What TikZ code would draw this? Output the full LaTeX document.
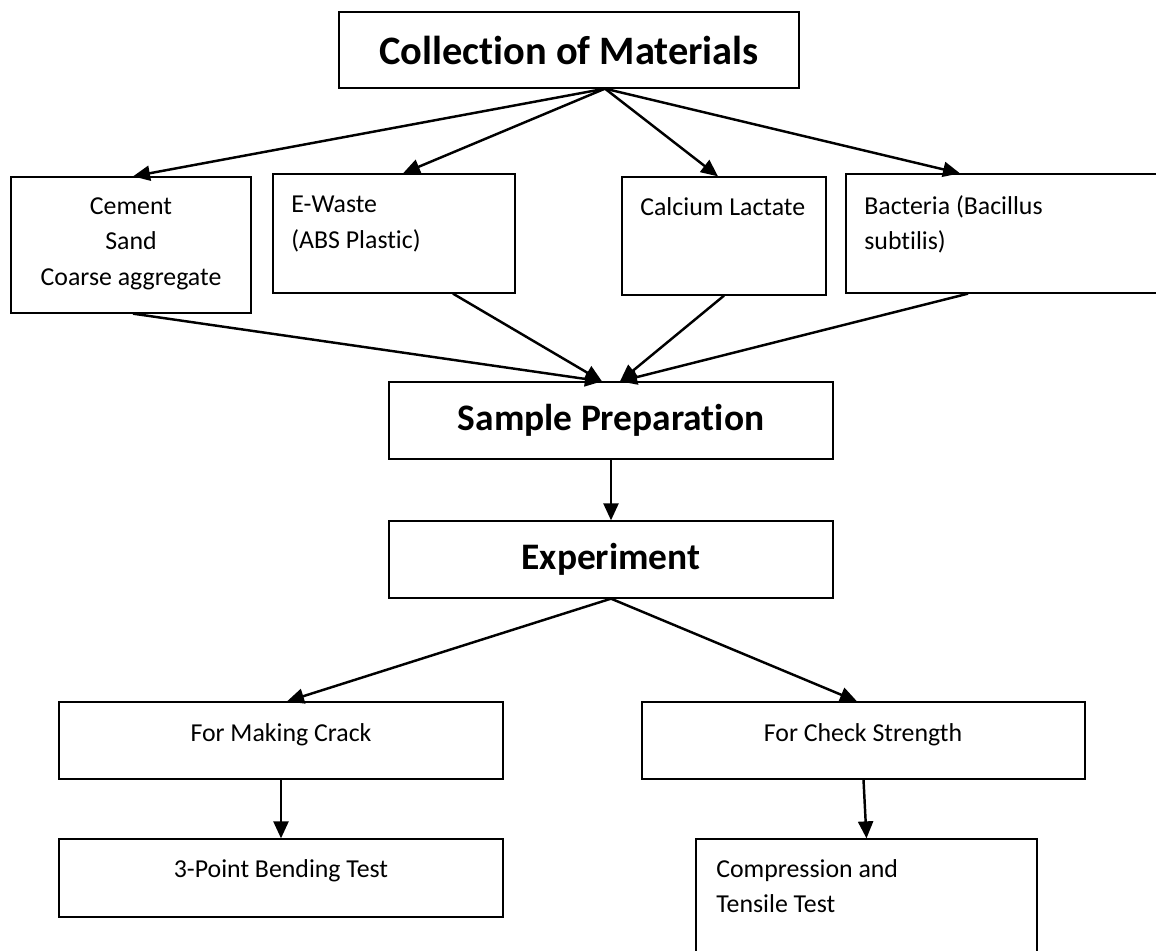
\documentclass[tikz,border=0pt]{standalone}
\usepackage{fontspec}
\setmainfont{Carlito}[Ligatures=NoCommon]
\usetikzlibrary{arrows.meta}

\begin{document}
\begin{tikzpicture}[x=0.02cm,y=-0.02cm,
    box/.style={draw,line width=0.75pt,inner sep=0pt},
    txt/.style={inner sep=0pt,font=\fontsize{14.7}{20.2}\selectfont},
    head/.style={inner sep=0pt,font=\fontsize{21.3}{25}\selectfont\bfseries},
    arr/.style={line width=1.4pt,-{Triangle[length=0.34cm,width=0.3cm]}}]
    \useasboundingbox (0,0) rectangle (1156,950);
    \clip (0,0) rectangle (1156,950);
    % boxes
    \node [box,head,font=\fontsize{23}{27}\selectfont\bfseries,minimum width=9.2cm,minimum height=1.52cm] (coll) at (569,50) {Collection of Materials};
    \node [box,minimum width=4.8cm,minimum height=2.72cm] (cem) at (131,245) {};
    \node [box,minimum width=4.84cm,minimum height=2.38cm] (ew) at (394,233.5) {};
    \node [box,minimum width=4.08cm,minimum height=2.36cm] (calc) at (724,236) {};
    \node [box,minimum width=6.68cm,minimum height=2.38cm] (bact) at (1013,233.5) {};
    \node [box,head,minimum width=8.88cm,minimum height=1.54cm] (prep) at (611,420.5) {Sample Preparation};
    \node [box,head,minimum width=8.88cm,minimum height=1.54cm] (exp) at (611,559.5) {Experiment};
    \node [box,minimum width=8.88cm,minimum height=1.54cm] (crack) at (281,740.5) {};
    \node [box,minimum width=8.88cm,minimum height=1.56cm] (bend) at (281,878) {};
    \node [box,minimum width=8.86cm,minimum height=1.54cm] (check) at (863.5,740.5) {};
    \node [box,minimum width=6.82cm,minimum height=3cm] (comp) at (866.5,914) {};
    % texts
    \node [txt,anchor=north,align=center] (cemtxt) at (131,197) {Cement\\Sand\\Coarse aggregate};
    \node [txt,anchor=north west,align=left] (ewtxt) at (291,196) {E-Waste\\(ABS Plastic)};
    \node [txt,anchor=north west] (calctxt) at (640,197) {Calcium Lactate};
    \node [txt,anchor=north west,align=left] (bacttxt) at (864,195) {Bacteria (Bacillus\\subtilis)};
    \node [txt,anchor=north] (cracktxt) at (281,723) {For Making Crack};
    \node [txt,anchor=north] (bendtxt) at (281,859) {3-Point Bending Test};
    \node [txt,anchor=north] (checktxt) at (863,723) {For Check Strength};
    \node [txt,anchor=north west,align=left] (comptxt) at (716,859) {Compression and\\Tensile Test};
    % connectors
    \coordinate (fork) at ([xshift=0.72cm]coll.south);
    \draw [arr] (fork) -- ([xshift=0.04cm]cem.north);
    \draw [arr] (fork) -- ([xshift=0.18cm]ew.north);
    \draw [arr] (fork) -- ([xshift=-0.12cm]calc.north);
    \draw [arr] (fork) -- ([xshift=-1.06cm]bact.north);
    \draw [arr] ([xshift=0.04cm]cem.south) -- ([xshift=-0.18cm]prep.north);
    \draw [arr] ([xshift=1.18cm]ew.south) -- ([xshift=-0.18cm]prep.north);
    \draw [arr] (calc.south) -- ([xshift=0.18cm]prep.north);
    \draw [arr] ([xshift=-0.9cm]bact.south) -- ([xshift=0.18cm]prep.north);
    \draw [arr] (prep.south) -- (exp.north);
    \draw [arr] (exp.south) -- ([xshift=0.12cm]crack.north);
    \draw [arr] (exp.south) -- ([xshift=-0.13cm]check.north);
    \draw [arr] (crack.south) -- (bend.north);
    \draw [arr] (check.south) -- (comp.north);
\end{tikzpicture}
\end{document}
